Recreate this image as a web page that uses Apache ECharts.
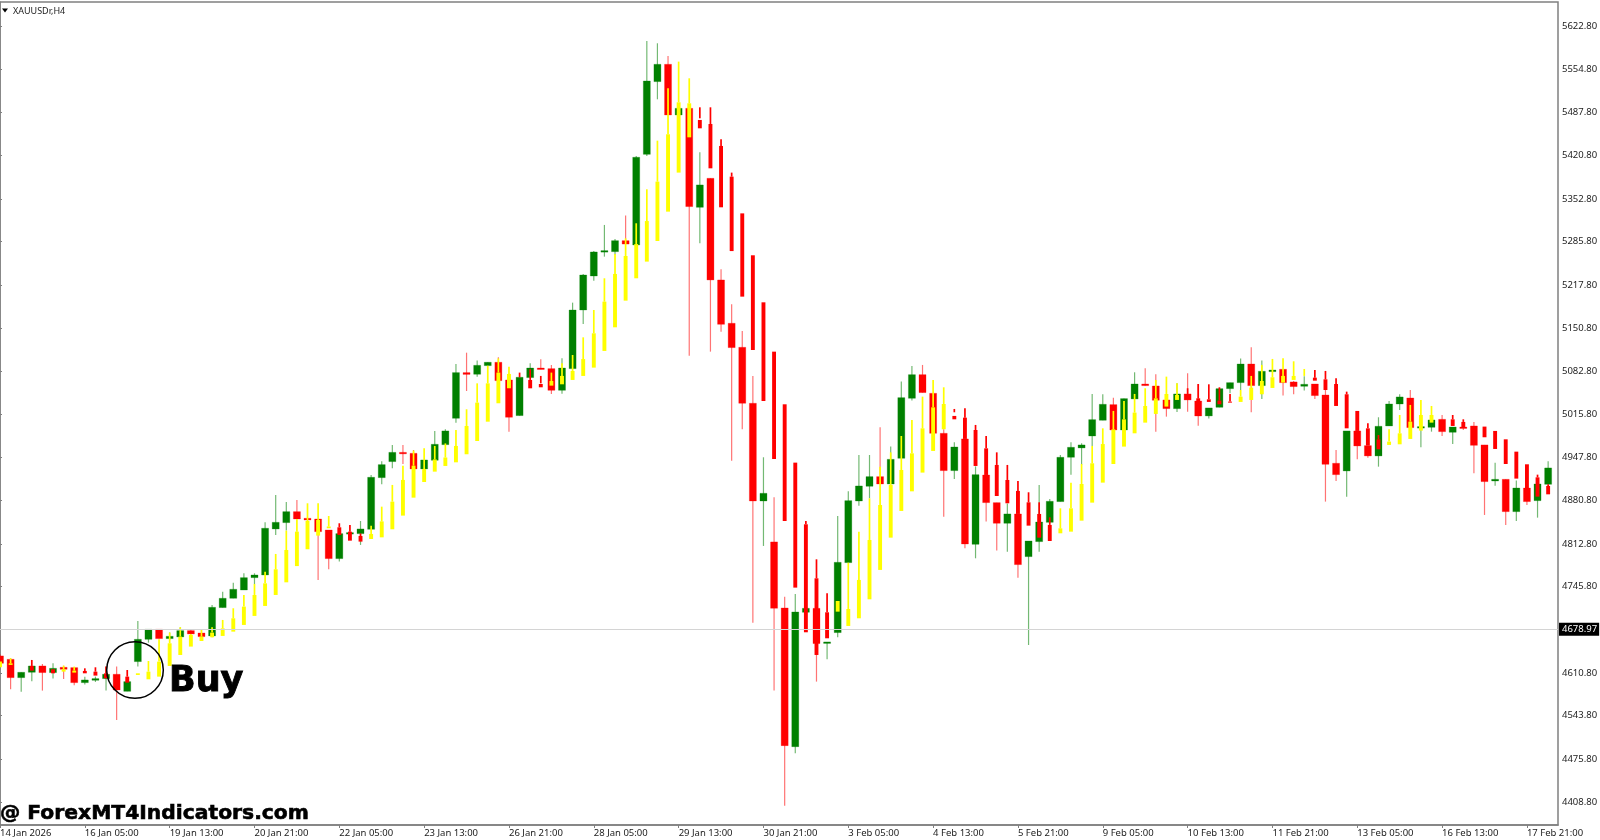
<!DOCTYPE html>
<html>
<head>
<meta charset="utf-8">
<title>XAUUSDr,H4</title>
<script src="https://cdn.jsdelivr.net/npm/echarts@6/dist/echarts.min.js"></script>
<style>
  html, body { margin: 0; padding: 0; background: #fff; }
  #chart { width: 1600px; height: 840px; }
</style>
</head>
<body>
<div id="chart"></div>
<script>
const barOpen = [
  4637.4, 4632.1, 4603.4, 4611.8, 4621.7, 4611.3, 4619.6, 4619.1, 4595.6, 4599.3,
  4601.9, 4608.7, 4582, 4628.5, 4663.4, 4679.1, 4664.5, 4667.1, 4677, 4673.3,
  4668.7, 4713, 4727.6, 4740.6, 4759.9, 4764.1, 4836.1, 4846, 4863.2, 4852.8,
  4851.7, 4834.5, 4789.7, 4828.3, 4828.8, 4835.6, 4916.4, 4941.5, 4956, 4954.5,
  4930, 4943.6, 4968, 5009.3, 5080.8, 5078.2, 5091.7, 5097, 5069.3, 5013.5,
  5073, 5088, 5087, 5053.1, 5087, 5178.8, 5232, 5270.1, 5270.1, 5287.3,
  5280.5, 5422.4, 5536.2, 5563.3, 5484, 5494.4, 5339.5, 5384.9, 5225.8, 5158,
  5120.4, 5032.8, 4879.9, 4815.8, 4712.5, 4495.4, 4705.7, 4711.9, 4657.2, 4673.9,
  4783.4, 4879.9, 4902.9, 4918, 4906.5, 4946.7, 5040.6, 5077.6, 5048.4, 4985.8,
  4927.4, 4977, 4812.1, 4920.6, 4877.3, 4845, 4859.6, 4792.8, 4816.3, 4846.5,
  4878.9, 4948.3, 4962.9, 4981.6, 5006.2, 5030.7, 4991, 5039.6, 5063, 5059.9,
  5038, 5024.4, 5047.4, 5036.4, 5013, 5026.5, 5055.7, 5065.1, 5094.3, 5060.4,
  5082.3, 5086, 5066.2, 5059.4, 5063, 5045.8, 4938.9, 4926.9, 4989.5, 4966.5,
  4950.4, 4997.3, 5031.7, 5041.1, 4994.2, 4995.2, 5007.7, 4987.4, 4995.7, 4997.3,
  4967.6, 4911.2, 4913.8, 4863.2, 4900.2, 4880.4, 4906
]
const barClose = [
  4625.9, 4603.4, 4611.8, 4621.7, 4611.3, 4618, 4616.5, 4595.6, 4599.8, 4601.9,
  4608.7, 4584.1, 4597.2, 4663.4, 4679.1, 4664.5, 4668.1, 4677, 4671.8, 4667.6,
  4713.5, 4727.6, 4741.7, 4759.9, 4764.1, 4837.2, 4846.5, 4863.2, 4851.7, 4850.2,
  4831.9, 4789.7, 4828.8, 4830.4, 4836.1, 4917, 4936.8, 4956, 4954, 4930,
  4944.1, 4968.6, 4989.5, 5080.8, 5078, 5092.2, 5097, 5068.2, 5010.9, 5073.5,
  5088, 5086, 5053.1, 5088, 5178.8, 5233.6, 5269.6, 5271.7, 5287.3, 5282,
  5417.8, 5537.2, 5563.3, 5484, 5494.4, 5340.6, 5374.5, 5225.8, 5156.4, 5119.9,
  5032.8, 4879.9, 4891.9, 4712, 4497, 4706.2, 4711.9, 4656.7, 4659.3, 4783.9,
  4880.4, 4903.4, 4918, 4906.5, 4945.1, 5041.6, 5077.6, 5049.5, 4985.8, 4927.4,
  4964.4, 4812.6, 4921.1, 4877.3, 4845, 4859.6, 4780.3, 4817.3, 4847, 4879.4,
  4948.3, 4963.9, 4967.6, 5007.2, 5031.2, 4991, 5040.1, 5063, 5060.4, 5037.5,
  5024.4, 5047.4, 5038, 5012.9, 5025.5, 5055.7, 5065.1, 5094.3, 5060.4, 5082.9,
  5084.9, 5065.1, 5058.9, 5062.5, 5044.8, 4937.3, 4921.1, 4989.5, 4966, 4950.4,
  4996.8, 5031.7, 5042.7, 4994.7, 4996.3, 5006.7, 4988.4, 4995.7, 4993.6, 4967,
  4910.2, 4913.8, 4863.2, 4900.2, 4878.9, 4906.5, 4931.6
]
const barHigh = [
  4640, 4633.7, 4612, 4621.7, 4624.8, 4625.9, 4622.2, 4619.6, 4605, 4605,
  4620.7, 4620.7, 4597.2, 4692.1, 4679.1, 4679.1, 4673.9, 4682.2, 4678, 4678,
  4717.2, 4738, 4752.1, 4766.7, 4766.7, 4846.5, 4889.3, 4878.4, 4881.5, 4852.8,
  4851.7, 4834.5, 4828.8, 4830.4, 4848.6, 4920.6, 4942, 4967.6, 4967.6, 4959.7,
  4944.1, 4989.5, 4992, 5094.3, 5112, 5099.6, 5097, 5104.8, 5069.3, 5073.5,
  5095.4, 5101.6, 5092.8, 5103.2, 5190.3, 5235.2, 5271, 5311.9, 5290, 5326.5,
  5419.8, 5599.8, 5596.2, 5576.4, 5494.4, 5494.4, 5425.6, 5384.9, 5242.5, 5187.7,
  5146, 5075.6, 4948.3, 4885.7, 4730.2, 4734.4, 4711.9, 4711.9, 4659.3, 4856.4,
  4895, 4951.9, 4951.9, 4995.2, 4965, 5066.7, 5091.2, 5092.8, 5048.4, 4992.1,
  4971.7, 4977, 4934, 4920.6, 4877.3, 4876, 4859.6, 4817.3, 4905, 4883,
  4951.9, 4971.7, 4970.2, 5047.4, 5046.9, 5041.6, 5040.1, 5081.3, 5087.6, 5078.2,
  5038, 5064.1, 5079.7, 5063, 5025.5, 5055.7, 5065.1, 5102.7, 5120.4, 5099.6,
  5084.9, 5086, 5067.7, 5075, 5063, 5053.6, 4959.7, 4989.5, 4989.5, 4966.5,
  5010.9, 5036.4, 5046.9, 5053.6, 4996.3, 5006.7, 5014.5, 4995.7, 4995.7, 5003.6,
  4967.6, 4939.9, 4913.8, 4911.8, 4900.2, 4906.5, 4942
]
const barLow = [
  4622, 4585.2, 4581.5, 4597.7, 4583.1, 4601.9, 4601.4, 4591.4, 4592.5, 4596.7,
  4583.1, 4537.2, 4582, 4620.7, 4658.2, 4664.5, 4662.4, 4667.1, 4671.8, 4667.6,
  4666.6, 4713, 4727.6, 4740.6, 4750, 4764.1, 4826.7, 4833.5, 4851.7, 4850.2,
  4756.3, 4773, 4785, 4828.3, 4811.1, 4835.6, 4906, 4931, 4937.8, 4930,
  4930, 4943.6, 4968, 5002.5, 5052, 5074.5, 5091.7, 5068.2, 4988.4, 5013.5,
  5073, 5086, 5047.4, 5047.9, 5087, 5157, 5224.7, 5262.3, 5264.9, 5282,
  5280.5, 5419.8, 5508.5, 5484, 5484, 5107, 5283.2, 5113.6, 5144.9, 4943,
  4992.1, 4689.5, 4809.5, 4583.1, 4403.1, 4485, 4705.7, 4597.2, 4632.1, 4666.6,
  4783.4, 4872.6, 4884, 4906.5, 4906.5, 4946.7, 5037, 5049.5, 4985.8, 4855.4,
  4914.3, 4805.8, 4790.2, 4847.6, 4802.2, 4800.6, 4759.9, 4654.5, 4800.6, 4846.5,
  4878.9, 4921.1, 4936.3, 4966, 5006.2, 4991, 4991, 5039.6, 5060.4, 4988.4,
  5011.9, 5019.2, 5019.7, 4997.8, 5008.8, 5026.5, 5048.4, 5053.6, 5018.7, 5039.6,
  5082.3, 5044.8, 5046.9, 5052.6, 5039.6, 4878.9, 4911.2, 4886.7, 4945.1, 4947.7,
  4933.6, 4997.3, 5022.3, 4994.7, 4963.9, 4988.4, 4981.7, 4969.1, 4991, 4923.2,
  4858, 4903.9, 4842.4, 4848.6, 4873.7, 4853.8, 4906
]

// indicator drawn over the candles: thin line from signalTop down, then thick part
const signalTop = [
  4628.5, 4633.7, null, 4631.1, null, 4616.5, 4622.2, 4620.7, 4618, 4619.6,
  4620.7, null, 4615.4, 4610.2, 4629.5, 4663.4, 4673.9, 4682.2, 4671.8, 4678,
  4682.2, 4693.7, 4712, 4732.8, 4750, 4769.3, 4797, 4833.5, 4851.7, 4876.3,
  4876.3, 4856.4, 4845, 4842.3, 4829, 4841.3, 4871, 4905, 4935, 4958.7,
  4962.3, 4966, 4970, 4991, 5023.4, 5064, 5091.7, 5103, 5090, 5080.8,
  5086, 5075.6, 5080.8, 5095.4, 5108.4, 5136, 5178.8, 5228.4, 5266.5, 5291,
  5314.5, 5367.7, 5443.8, 5525.8, 5567.5, 5541.4, 5496, 5496, 5445.9, 5393.8,
  5330, 5264.4, 5190.8, 5113.6, 5031.2, 4939.9, 4848.6, 4788.6, 4735.4, 4723.4,
  4783.4, 4831.9, 4884, 4933.6, 4956, 4981.6, 5006.7, 5043.2, 5069.3, 5057.8,
  5023.9, 5024.9, 4998.9, 4981.7, 4956, 4936.3, 4911.2, 4893.5, 4877.8, 4854.3,
  4868.4, 4908.6, 4937.8, 4966, 4993.6, 5020.8, 5036.4, 5047.4, 5056.3, 5069.3,
  5074.5, 5064.1, 5056.3, 5063, 5062.5, 5057.8, 5047.4, 5053.6, 5075.6, 5092.8,
  5102.2, 5103.2, 5098.5, 5086.5, 5084.9, 5083.4, 5071.9, 5051, 5020.8, 5001.5,
  4983.2, 4992.1, 5014.5, 5030.2, 5038, 5028.6, null, 5014.5, 5007.7, null,
  4996.3, 4989.5, 4976.4, 4957.1, 4937.3, 4921.1, 4906
]
const signalBodyTop = [
  4628.5, 4625.9, null, 4621.7, null, 4616.5, 4616.5, 4614.4, 4613.9, 4612.8,
  4610.2, null, 4605, 4610.2, 4612.8, 4628.5, 4657.2, 4667.6, 4670.2, 4667.6,
  4673.9, 4680.6, 4696.3, 4714.6, 4732.8, 4751, 4773, 4803.2, 4831.9, 4848.6,
  4850.2, 4840, 4838.7, 4831.9, 4825.1, 4828.3, 4848, 4878.9, 4912.8, 4935.2,
  4930, 4945, 4948, 4966, 4997.3, 5033.8, 5064, 5080.8, 5078.7, 5073.5,
  5069.3, 5063, 5067.7, 5075.6, 5083.4, 5102, 5142.3, 5191.9, 5235.2, 5263.3,
  5282, 5318, 5379.7, 5453.8, 5503.8, 5502.3, 5476.2, 5469.9, 5435.5, 5387.5,
  5330, 5264.4, 5190.8, 5113.6, 5031.2, 4939.9, 4843.4, 4758.9, 4705.7, 4723.4,
  4710.9, 4756.3, 4818.9, 4873.6, 4905, 4928.4, 4954.5, 4993.6, 5026.5, 5031.7,
  5013, 5010.3, 4991, 4962.3, 4936.3, 4912.8, 4895.6, 4877.8, 4859.6, 4842.4,
  4837.1, 4868.4, 4906.5, 4938.9, 4969, 4992.1, 5007.7, 5018.2, 5028.6, 5040.6,
  5047.4, 5045.8, 5047.4, 5040.6, 5039, 5037, 5035.4, 5043.2, 5057.3, 5067.7,
  5073.5, 5075.6, 5075.6, 5075.6, 5072.9, 5070.3, 5063, 5046.9, 5020.8, 4993.6,
  4976.4, 4972.8, 4985.8, 5004.1, 5014.5, 5014.5, null, 5007.7, 5003.6, null,
  4996.3, 4989.5, 4976.4, 4957.1, 4937.3, 4916.9, 4903.4
]
const signalBodyBottom = [
  4619.6, 4623.3, null, 4614.4, null, 4610.2, 4612.8, 4611.3, 4610.2, 4606.6,
  4602.4, null, 4595.6, 4607.6, 4600.8, 4605, 4621.7, 4638.9, 4652, 4660.8,
  4666.6, 4668.7, 4675.4, 4685.9, 4700, 4715.6, 4732.8, 4752.6, 4778, 4804.3,
  4825.7, 4837.2, 4826.7, 4817.8, 4816.3, 4820.4, 4823, 4835.6, 4857, 4885.1,
  4909.6, 4925.8, 4934.7, 4940.4, 4953, 4973.8, 5004, 5032.8, 5056.3, 5073.5,
  5056.2, 5057.8, 5060.4, 5062.5, 5069.3, 5075.6, 5088.6, 5114.7, 5151.7, 5193.4,
  5228.4, 5254.5, 5286.8, 5332.7, 5393.8, 5449, 5463.1, 5400.5, 5339.5, 5271,
  5199.7, 5116.2, 5036.4, 4945.6, 4848.6, 4744.3, 4674.4, 4638.9, 4665, 4706.7,
  4684.3, 4696.3, 4726, 4772, 4822.5, 4864.3, 4895, 4924.3, 4958.2, 4992.1,
  5007.7, 4977, 4934.7, 4920.6, 4887.7, 4876.3, 4859.6, 4841.3, 4822.5, 4817.3,
  4829.3, 4831.9, 4849.1, 4877.3, 4908.6, 4937.8, 4965, 4985.8, 5002.5, 5016.1,
  5027.6, 5038, 5047.4, 5036.4, 5034.9, 5031.2, 5033.8, 5034.9, 5038, 5046.9,
  5056.8, 5065.1, 5069.3, 5075.6, 5068.2, 5053.6, 5028.6, 4993.6, 4989.5, 4966.5,
  4960.8, 4967.6, 4968.6, 4977, 4990, 5002.5, null, 4997.3, 4995.7, null,
  4979.6, 4961.3, 4937.8, 4914.9, 4900.2, 4886.7, 4890.3
]
// bars where the thin part stops before the thick part starts (bar index: price)
const signalThinEnd = { 51: 5064, 66: 5478.8, 90: 5018.7 }
const signalKind = ('yy.r.ryyrr' + 'r.ryyyyyyy' + 'yyyyyyyyyy' + 'yyrrryyyyy' + 'yyyyyyyyyr' +
  'rryyyyyyyy' + 'yyyyyyrrrr' + 'rrrrrrrrry' + 'yyyyyyyyyy' + 'rrrrrrrrrr' +
  'yyyyyyyyyy' + 'yyrrrrryyy' + 'yyyyrrrrrr' + 'ryyyyy.rr.' + 'rrrrrrr').split('')

const priceTicks = [5622.8, 5554.8, 5487.8, 5420.8, 5352.8, 5285.8, 5217.8, 5150.8, 5082.8, 5015.8,
  4947.8, 4880.8, 4812.8, 4745.8, 4610.8, 4543.8, 4475.8, 4408.8]
const timeLabels = ['14 Jan 2026', '16 Jan 05:00', '19 Jan 13:00', '20 Jan 21:00', '22 Jan 05:00',
  '23 Jan 13:00', '26 Jan 21:00', '28 Jan 05:00', '29 Jan 13:00', '30 Jan 21:00', '3 Feb 05:00',
  '4 Feb 13:00', '5 Feb 21:00', '9 Feb 05:00', '10 Feb 13:00', '11 Feb 21:00', '13 Feb 05:00',
  '16 Feb 13:00', '17 Feb 21:00']
const barsPerLabel = 8
const lastPrice = 4678.97

const GREEN = '#008000'
const RED = '#ff0000'
const YELLOW = '#ffff00'
const AXIS_GREY = '#808080'
const LABEL_FONT = '"Noto Sans", sans-serif'

function vLine (x, y1, y2, color, width, opacity) {
  return {
    type: 'line',
    shape: { x1: x, y1: y1, x2: x, y2: y2 },
    style: { stroke: color, lineWidth: width, opacity: opacity }
  }
}

function renderCandle (params, api) {
  const i = api.value(0)
  const open = api.coord([i, api.value(1)])
  const close = api.coord([i, api.value(2)])
  const low = api.coord([i, api.value(3)])
  const high = api.coord([i, api.value(4)])
  const color = api.value(2) >= api.value(1) ? GREEN : RED
  const top = Math.min(open[1], close[1])
  const height = Math.max(Math.abs(open[1] - close[1]), 1.5)
  return {
    type: 'group',
    children: [
      vLine(open[0], high[1], low[1], color, 1.2, 0.55),
      {
        type: 'rect',
        shape: { x: open[0] - 3.5, y: top, width: 7, height: height },
        style: { fill: color, stroke: color, lineWidth: 0.8, strokeOpacity: 0.35 }
      }
    ]
  }
}

function renderSignal (params, api) {
  const kind = signalKind[params.dataIndex]
  if (kind === '.') return null
  const i = api.value(0)
  const top = api.coord([i, api.value(1)])
  const thinEnd = api.coord([i, api.value(2)])
  const bodyTop = api.coord([i, api.value(3)])
  const bodyBottom = api.coord([i, api.value(4)])
  const color = kind === 'y' ? YELLOW : RED
  const children = []
  if (thinEnd[1] - top[1] > 0.5) children.push(vLine(top[0], top[1], thinEnd[1], color, 1.7, 1))
  if (bodyBottom[1] - bodyTop[1] > 0.5) children.push(vLine(top[0], bodyTop[1], bodyBottom[1], color, 3.9, 1))
  return { type: 'group', children: children }
}

const candleData = barOpen.map((o, i) => [i, o, barClose[i], barLow[i], barHigh[i]])
const signalData = signalTop.map((t, i) => [
  i, t, signalThinEnd[i] !== undefined ? signalThinEnd[i] : signalBodyTop[i], signalBodyTop[i], signalBodyBottom[i]
])
const timeTicks = timeLabels.map((t, i) => i * barsPerLabel)

const chart = echarts.init(document.getElementById('chart'))
chart.setOption({
  animation: false,
  backgroundColor: '#ffffff',
  title: {
    text: 'XAUUSDr,H4',
    left: 13,
    top: 7,
    padding: 0,
    textStyle: { fontFamily: LABEL_FONT, fontSize: 9, fontWeight: 'normal', color: '#222222' }
  },
  grid: {
    show: true,
    left: 0,
    right: 42,
    top: 2,
    bottom: 15,
    outerBoundsMode: 'none',
    borderColor: AXIS_GREY,
    borderWidth: 1.5,
    backgroundColor: '#ffffff'
  },
  xAxis: {
    type: 'value',
    min: 0,
    max: 146.93,
    splitLine: { show: false },
    axisLine: { show: true, lineStyle: { color: AXIS_GREY, width: 1.5 } },
    axisTick: { show: true, length: 3, customValues: timeTicks, lineStyle: { color: AXIS_GREY } },
    axisLabel: {
      customValues: timeTicks,
      align: 'left',
      margin: 3,
      fontFamily: LABEL_FONT,
      fontSize: 9.5,
      color: '#222222',
      formatter: v => timeLabels[v / barsPerLabel]
    }
  },
  yAxis: {
    type: 'value',
    position: 'right',
    min: 4372.8,
    max: 5660.8,
    splitLine: { show: false },
    axisLine: { show: true, lineStyle: { color: AXIS_GREY, width: 1.5 } },
    axisTick: { show: true, length: 2, customValues: priceTicks, lineStyle: { color: AXIS_GREY } },
    axisLabel: {
      customValues: priceTicks,
      margin: 4,
      padding: [2, 0, 0, 0],
      fontFamily: LABEL_FONT,
      fontSize: 9.5,
      color: '#222222',
      formatter: v => v.toFixed(2)
    }
  },
  series: [
    {
      type: 'line',
      z: 1,
      data: [],
      silent: true,
      markLine: {
        silent: true,
        symbol: 'none',
        animation: false,
        lineStyle: { color: '#d4d4d4', width: 1.2, type: 'solid' },
        label: {
          position: 'end',
          distance: 1,
          formatter: () => lastPrice.toFixed(2),
          color: '#ffffff',
          backgroundColor: '#000000',
          padding: [2, 2, 1, 3],
          fontFamily: LABEL_FONT,
          fontSize: 9.5
        },
        data: [{ yAxis: lastPrice }]
      }
    },
    {
      type: 'custom',
      name: 'candles',
      z: 2,
      clip: true,
      renderItem: renderCandle,
      encode: { x: 0, y: [1, 2, 3, 4] },
      data: candleData
    },
    {
      type: 'custom',
      name: 'signal',
      z: 3,
      clip: true,
      renderItem: renderSignal,
      encode: { x: 0, y: [1, 2, 3, 4] },
      data: signalData
    }
  ],
  graphic: [
    {
      type: 'polygon',
      shape: { points: [[2, 8.5], [8, 8.5], [5, 12.5]] },
      style: { fill: '#000000' }
    },
    {
      type: 'circle',
      shape: { cx: 135, cy: 670, r: 28.3 },
      style: { fill: 'none', stroke: '#000000', lineWidth: 1.5 },
      z: 10
    },
    {
      type: 'text',
      x: 169,
      y: 664,
      style: { text: 'Buy', fill: '#000000', stroke: '#000000', lineWidth: 0.9, font: 'bold 35px "DejaVu Sans"' },
      z: 10
    },
    {
      type: 'text',
      x: 0,
      y: 804,
      style: { text: '@ ForexMT4Indicators.com', fill: '#000000', stroke: '#000000', lineWidth: 0.6, font: 'bold 20.3px "DejaVu Sans"' },
      z: 10
    }
  ]
})
</script>
</body>
</html>
